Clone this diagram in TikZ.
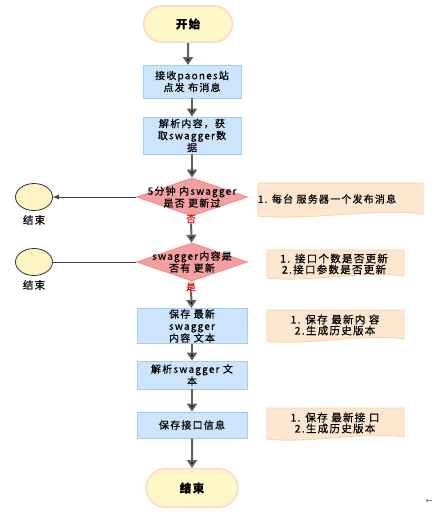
\documentclass[tikz,border=0pt]{standalone}
\usepackage{fontspec}
\setmainfont{Noto Sans CJK SC}[LetterSpace=12, FakeBold=0.6]
\usetikzlibrary{shapes.geometric,shapes.misc,arrows.meta,positioning}
\definecolor{pillfill}{HTML}{FFF9C9}
\definecolor{pillline}{HTML}{FFDDC6}
\definecolor{boxfill}{HTML}{CCE4FC}
\definecolor{boxline}{HTML}{A3CFF7}
\definecolor{diafill}{HTML}{F5A0A0}
\definecolor{dialine}{HTML}{EC8A8A}
\definecolor{notefill}{HTML}{FDE7CF}
\definecolor{noteline}{HTML}{F9D3A8}
\definecolor{stopfill}{HTML}{FFF3C4}
\definecolor{flowgray}{HTML}{606060}

% note with a wavy lower edge: name, x1, y1, x2, y2, text centre, text
\newcommand{\wavenote}[7]{%
  \draw[notebg] (#2,#3) -- (#4,#3) -- (#4,{#5-2})
    .. controls ({#2+0.7*(#4-#2)},{#5-8}) and ({#2+0.3*(#4-#2)},{#5+5}) .. (#2,#5) -- cycle;
  \node[notetext] (#1) at (#6) {#7};}

\begin{document}
\begin{tikzpicture}[x=1pt,y=-1pt,
  pill/.style={rounded rectangle, draw=pillline, line width=2pt, fill=pillfill,
    minimum width=95pt, minimum height=36pt, font=\bfseries\fontsize{11.5}{13}\selectfont},
  stepbox/.style={rectangle, draw=boxline, fill=boxfill, line width=0.8pt, align=center,
    inner sep=1pt, minimum width=110pt, font=\fontsize{10}{12}\selectfont},
  decision/.style={diamond, draw=dialine, fill=diafill, line width=0.8pt,
    minimum width=111pt, minimum height=38pt, inner sep=0pt},
  distext/.style={align=center, inner sep=0pt, font=\fontsize{10}{12}\selectfont},
  redlab/.style={text=red!85!black, inner sep=0pt, font=\fontsize{9.5}{10}\selectfont},
  stopdot/.style={ellipse, draw=black!80, fill=stopfill, line width=0.8pt,
    minimum width=37pt, minimum height=27pt, inner sep=0pt},
  stoplab/.style={inner sep=0pt, font=\fontsize{10.5}{11}\selectfont},
  flow/.style={draw=flowgray, line width=2pt, -{Triangle[width=10pt,length=8pt]}},
  side/.style={draw=black!75, line width=0.7pt},
  notebg/.style={draw=noteline, fill=notefill, line width=0.8pt},
  notetext/.style={align=center, inner sep=0pt, font=\fontsize{10.5}{11}\selectfont}]
\useasboundingbox (0,0) rectangle (434,512);

% main column
\node[pill] (start) at (188,24) {开始};
\node[stepbox, minimum width=98pt, minimum height=33pt] (recv) at (192,81.5) {接收paones站\\点发 布消息};
\node[stepbox, minimum width=98pt, minimum height=37pt] (parse) at (192,135.5) {解析内容，获\\取swagger数\\据};
\node[decision] (d1) at (192,197) {};
\node[distext] (d1t) at (d1) {5分钟 内swagger\\是否 更新过};
\node[redlab] (no) at (191,219) {否};
\node[decision] (d2) at (192,262) {};
\node[distext] (d2t) at (d2) {swagger内容是\\否有 更新};
\node[redlab] (yes) at (191,287) {是};
\node[stepbox, minimum height=34pt] (savetxt) at (192,326) {保存 最新\\swagger\\内容 文本};
\node[stepbox, minimum height=28pt] (parsetxt) at (192,375) {解析swagger 文\\本};
\node[stepbox, minimum height=26pt] (saveapi) at (192,425) {保存接口信息};
\node[pill, minimum width=98pt, minimum height=38pt] (finish) at (192,488) {结束};
\coordinate (recvtop) at (188,65);

% early exits
\node[stopdot] (stop1) at (34,197) {};
\node[stoplab, below=4pt of stop1] (stop1lab) {结束};
\node[stopdot] (stop2) at (34,262) {};
\node[stoplab, below=4pt of stop2] (stop2lab) {结束};

\path[flow]
  (start) edge (recvtop)
  (recv) edge (parse)
  (parse) edge (d1)
  (no) edge (d2)
  (yes) edge (savetxt)
  (savetxt) edge (parsetxt)
  (parsetxt) edge (saveapi)
  (saveapi) edge (finish);
\draw[side, -{Latex[length=6pt,width=5pt]}] (d1.west) -- (stop1.east);
\draw[side] (d2.west) -- (stop2.east);

% notes
\wavenote{n1}{258}{183}{423}{216}{327,199}{\fontsize{10}{11}\selectfont 1. 每台 服务器一个发布消息}
\wavenote{n2}{267}{250}{404}{278}{334,264}{1. 接口个数是否更新\\2.接口参数是否更新}
\wavenote{n3}{267}{310}{404}{341}{335,325}{1. 保存 最新内 容\\2.生成历史版本}
\wavenote{n4}{267}{408}{404}{439}{335,423}{1. 保存 最新接 口\\2.生成历史版本}

\node[text=black!45, inner sep=0pt, font=\fontsize{7}{7}\selectfont] (back) at (429,501) {←};
\end{tikzpicture}
\end{document}
